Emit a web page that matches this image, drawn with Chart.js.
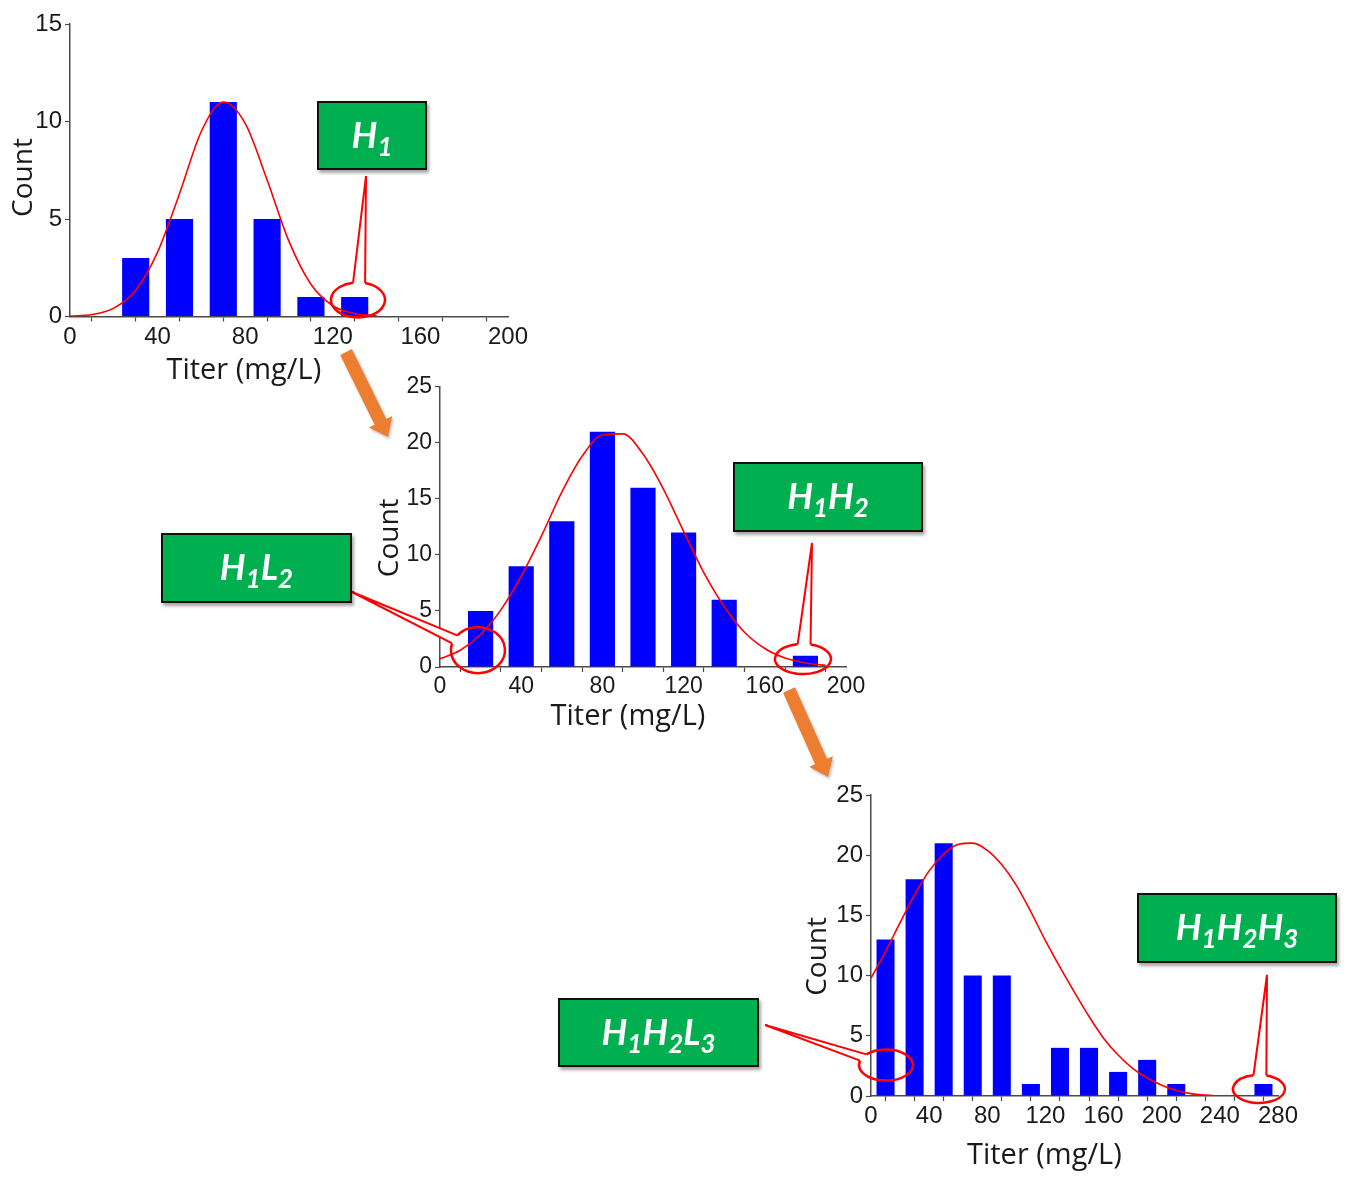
<!DOCTYPE html>
<html>
<head>
<meta charset="utf-8">
<script src="https://cdn.jsdelivr.net/npm/chart.js@4.4.1/dist/chart.umd.min.js"></script>
<style>
html,body{margin:0;padding:0;background:#ffffff;}
body{width:1347px;height:1178px;position:relative;overflow:hidden;}
canvas.chart{position:absolute;}
#overlay{position:absolute;left:0;top:0;pointer-events:none;}
.tag{position:absolute;box-sizing:border-box;background:#00B050;border:2.5px solid #111;
  box-shadow:2px 3px 3px rgba(0,0,0,0.35);display:flex;align-items:center;justify-content:center;
  color:#fff;font-family:Lato,'Open Sans',sans-serif;font-weight:700;font-style:italic;font-size:36px;line-height:1;}
.tag span{display:inline-block;position:relative;top:-2px;}
.tag sub{font-size:72%;vertical-align:-0.32em;line-height:0;}
</style>
</head>
<body>
<canvas id="c1" class="chart" width="540" height="400" style="left:0px;top:0px"></canvas>
<canvas id="c2" class="chart" width="520" height="380" style="left:360px;top:370px"></canvas>
<canvas id="c3" class="chart" width="530" height="405" style="left:790px;top:770px"></canvas>
<canvas id="overlay" width="1347" height="1178"></canvas>

<div class="tag" style="left:317px;top:101px;width:110px;height:69px"><span>H<sub>1</sub></span></div>
<div class="tag" style="left:733px;top:462px;width:190px;height:70px"><span>H<sub>1</sub>H<sub>2</sub></span></div>
<div class="tag" style="left:161px;top:533px;width:191px;height:70px"><span>H<sub>1</sub>L<sub>2</sub></span></div>
<div class="tag" style="left:1137px;top:893px;width:200px;height:70px"><span>H<sub>1</sub>H<sub>2</sub>H<sub>3</sub></span></div>
<div class="tag" style="left:558px;top:998px;width:201px;height:69px"><span>H<sub>1</sub>H<sub>2</sub>L<sub>3</sub></span></div>

<script>
// ---------------- data ----------------
const xTitle = 'Titer (mg/L)';
const yTitle = 'Count';

// Panel 1 (H1)
const binCenters1 = [30, 50, 70, 90, 110, 130];
const counts1     = [3, 5, 11, 5, 1, 1];
const fitX1 = [0, 10, 20, 30, 40, 50, 60, 70, 80, 90, 100, 110, 120, 130, 140];
const fitY1 = [0.02, 0.1, 0.43, 1.35, 3.3, 6.3, 9.5, 11.0, 9.9, 7.0, 3.85, 1.65, 0.55, 0.14, 0.03];

// Panel 2 (H1H2 / H1L2)
const binCenters2 = [20, 40, 60, 80, 100, 120, 140, 160, 180];
const counts2     = [5, 9, 13, 21, 16, 12, 6, 0, 1];
const fitX2 = [0, 10, 20, 30, 40, 50, 60, 70, 80, 90, 100, 110, 120, 130, 140, 150, 160, 170, 180, 190];
const fitY2 = [0.74, 1.5, 2.9, 5.1, 8.1, 11.7, 15.6, 18.8, 20.7, 20.8, 19.0, 15.9, 12.1, 8.4, 5.4, 3.1, 1.65, 0.8, 0.36, 0.15];

// Panel 3 (H1H2H3 / H1H2L3)
const binCenters3 = [10, 30, 50, 70, 90, 110, 130, 150, 170, 190, 210, 230, 250, 270];
const counts3     = [13, 18, 21, 10, 10, 1, 4, 4, 2, 3, 1, 0, 0, 1];
const fitX3 = [0, 10, 20, 30, 40, 50, 60, 70, 80, 90, 100, 110, 120, 130, 140, 150, 160, 170, 180, 190, 200, 210, 220, 230, 240];
const fitY3 = [9.8, 12.0, 14.4, 16.7, 18.7, 20.1, 20.9, 21.0, 20.4, 19.2, 17.5, 15.3, 12.9, 10.7, 8.6, 6.6, 4.8, 3.4, 2.3, 1.5, 0.9, 0.45, 0.2, 0.07, 0];

// ---------------- layout / style ----------------
const TICK_FAMILY = "'Liberation Sans', Arial, sans-serif";
const TITLE_FAMILY = "'Open Sans', 'Noto Sans', sans-serif";
const AXIS_COLOR = '#4a4a4a';
const TEXT_COLOR = '#1a1a1a';

const measureCtx = document.createElement('canvas').getContext('2d');
function padEnd(text, px, size) {
  measureCtx.font = size + 'px ' + TITLE_FAMILY;
  const w = measureCtx.measureText('\u00A0').width || size * 0.26;
  const n = Math.max(0, Math.round(px / w));
  return text + '\u00A0'.repeat(n);
}

function histChart(id, centers, counts, fitX, fitY, L) {
  const el = document.getElementById(id);
  return new Chart(el, {
    type: 'bar',
    data: {
      datasets: [
        {
          type: 'line',
          data: fitX.map((x, i) => ({x: x, y: fitY[i]})),
          borderColor: '#ff0000', borderWidth: 1.6, pointRadius: 0, fill: false,
          cubicInterpolationMode: 'monotone', order: 0
        },
        {
          type: 'bar',
          data: centers.map((x, i) => ({x: x, y: counts[i]})),
          backgroundColor: '#0000ff', borderWidth: 0,
          barPercentage: 0.62, categoryPercentage: 1.0, order: 1
        }
      ]
    },
    options: {
      responsive: false, maintainAspectRatio: false, animation: false, events: [],
      layout: {padding: {left: 0, top: L.padTop, right: L.padRight, bottom: 0}},
      plugins: {legend: {display: false}, tooltip: {enabled: false}, title: {display: false}},
      scales: {
        x: {
          type: 'linear', min: 0, max: L.xMax, offset: false,
          ticks: {stepSize: 20, autoSkip: false, maxRotation: 0, padding: 1, color: TEXT_COLOR,
                  font: {family: TICK_FAMILY, size: L.tickSize},
                  callback: v => (v % 40 === 0 ? String(v) : '')},
          grid: {display: true, drawOnChartArea: false, drawTicks: true, tickLength: 5, tickColor: AXIS_COLOR, tickWidth: 1.2},
          border: {display: true, color: AXIS_COLOR, width: 1.5},
          title: {display: true, text: padEnd(xTitle, L.xTitleShift * 2, L.titleSize), color: TEXT_COLOR,
                  font: {family: TITLE_FAMILY, size: L.titleSize, lineHeight: 1},
                  padding: {top: 0, bottom: L.xTitlePad}},
          afterFit: s => { s.height = L.xAxisH; }
        },
        y: {
          type: 'linear', min: 0, max: L.yMax,
          ticks: {stepSize: 5, padding: 3, color: TEXT_COLOR, font: {family: TICK_FAMILY, size: L.tickSize}},
          grid: {display: true, drawOnChartArea: false, drawTicks: true, tickLength: 5, tickColor: AXIS_COLOR, tickWidth: 1.2},
          border: {display: true, color: AXIS_COLOR, width: 1.5},
          title: {display: true, text: padEnd(yTitle, L.yTitleShift * 2, L.ySize), color: TEXT_COLOR,
                  font: {family: TITLE_FAMILY, size: L.ySize, lineHeight: 1},
                  padding: {top: L.yTitlePad, bottom: 0}},
          afterFit: s => { s.width = L.yAxisW; }
        }
      }
    }
  });
}

const charts = [
  histChart('c1', binCenters1, counts1, fitX1, fitY1,
    {xMax: 200, yMax: 15, padTop: 24, padRight: 32, yAxisW: 70, xAxisH: 83.5, tickSize: 24,
     titleSize: 29, ySize: 28, xTitlePad: 15, yTitlePad: 10, xTitleShift: 45, yTitleShift: 9}),
  histChart('c2', binCenters2, counts2, fitX2, fitY2,
    {xMax: 200, yMax: 25, padTop: 15, padRight: 34, yAxisW: 80, xAxisH: 83, tickSize: 23,
     titleSize: 29, ySize: 28, xTitlePad: 19, yTitlePad: 16, xTitleShift: 14, yTitleShift: 10}),
  histChart('c3', binCenters3, counts3, fitX3, fitY3,
    {xMax: 280, yMax: 25, padTop: 25, padRight: 42, yAxisW: 81, xAxisH: 79, tickSize: 24,
     titleSize: 29, ySize: 28, xTitlePad: 5, yTitlePad: 14, xTitleShift: 31, yTitleShift: 10})
];
const chartOrigins = [[0, 0], [360, 370], [790, 770]];

// callout ellipses anchored to data coordinates, wedge apex at the label box
const callouts = [
  {chart: 0, x: 131.5, y: 0.85, rx: 27, ry: 17.5, apex: [366, 176]},
  {chart: 1, x: 178.8, y: 0.71, rx: 28, ry: 15,   apex: [812, 543]},
  {chart: 1, x: 18.7,  y: 1.5,  rx: 27, ry: 23,   apex: [352, 592]},
  {chart: 2, x: 10.3,  y: 2.57, rx: 27, ry: 15.5, apex: [765, 1025]},
  {chart: 2, x: 266.9, y: 0.58, rx: 26, ry: 14,   apex: [1267, 975]}
];
const arrows = [
  {from: [346, 352], to: [388, 437]},
  {from: [789, 690], to: [828, 777]}
];

const octx = document.getElementById('overlay').getContext('2d');

function drawArrow(ctx, a) {
  const [x1, y1] = a.from, [x2, y2] = a.to;
  const len = Math.hypot(x2 - x1, y2 - y1);
  const ux = (x2 - x1) / len, uy = (y2 - y1) / len;
  const nx = -uy, ny = ux;
  const sw = 6.5, hw = 13, hl = 17;
  const bx = x2 - ux * hl, by = y2 - uy * hl;
  ctx.save();
  ctx.shadowColor = 'rgba(0,0,0,0.25)'; ctx.shadowBlur = 3; ctx.shadowOffsetX = 1.5; ctx.shadowOffsetY = 2;
  ctx.fillStyle = '#ED7D31';
  ctx.beginPath();
  ctx.moveTo(x1 + nx * sw, y1 + ny * sw);
  ctx.lineTo(bx + nx * sw, by + ny * sw);
  ctx.lineTo(bx + nx * hw, by + ny * hw);
  ctx.lineTo(x2, y2);
  ctx.lineTo(bx - nx * hw, by - ny * hw);
  ctx.lineTo(bx - nx * sw, by - ny * sw);
  ctx.lineTo(x1 - nx * sw, y1 - ny * sw);
  ctx.closePath();
  ctx.fill();
  ctx.restore();
}

function drawCallout(ctx, c) {
  const ch = charts[c.chart];
  const [ox, oy] = chartOrigins[c.chart];
  const cx = ox + ch.scales.x.getPixelForValue(c.x);
  const cy = oy + ch.scales.y.getPixelForValue(c.y);
  const [ax, ay] = c.apex;
  const t0 = Math.atan2((ay - cy) / c.ry, (ax - cx) / c.rx);
  const d = 5 / ((c.rx + c.ry) / 2);
  const p = t => [cx + c.rx * Math.cos(t), cy + c.ry * Math.sin(t)];
  const b1 = p(t0 - d), b2 = p(t0 + d);
  ctx.save();
  ctx.strokeStyle = '#ff0000';
  ctx.lineWidth = 2.5;
  ctx.beginPath();
  ctx.ellipse(cx, cy, c.rx, c.ry, 0, t0 + d, t0 - d + 2 * Math.PI);
  ctx.stroke();
  ctx.beginPath();
  ctx.moveTo(b1[0], b1[1]); ctx.lineTo(ax, ay); ctx.lineTo(b2[0], b2[1]); ctx.closePath();
  ctx.fillStyle = '#ffffff';
  ctx.fill();
  ctx.lineWidth = 2;
  ctx.lineJoin = 'miter';
  ctx.beginPath();
  ctx.moveTo(b1[0], b1[1]); ctx.lineTo(ax, ay); ctx.lineTo(b2[0], b2[1]);
  ctx.stroke();
  ctx.restore();
}

arrows.forEach(a => drawArrow(octx, a));
callouts.forEach(c => drawCallout(octx, c));
</script>
</body>
</html>
